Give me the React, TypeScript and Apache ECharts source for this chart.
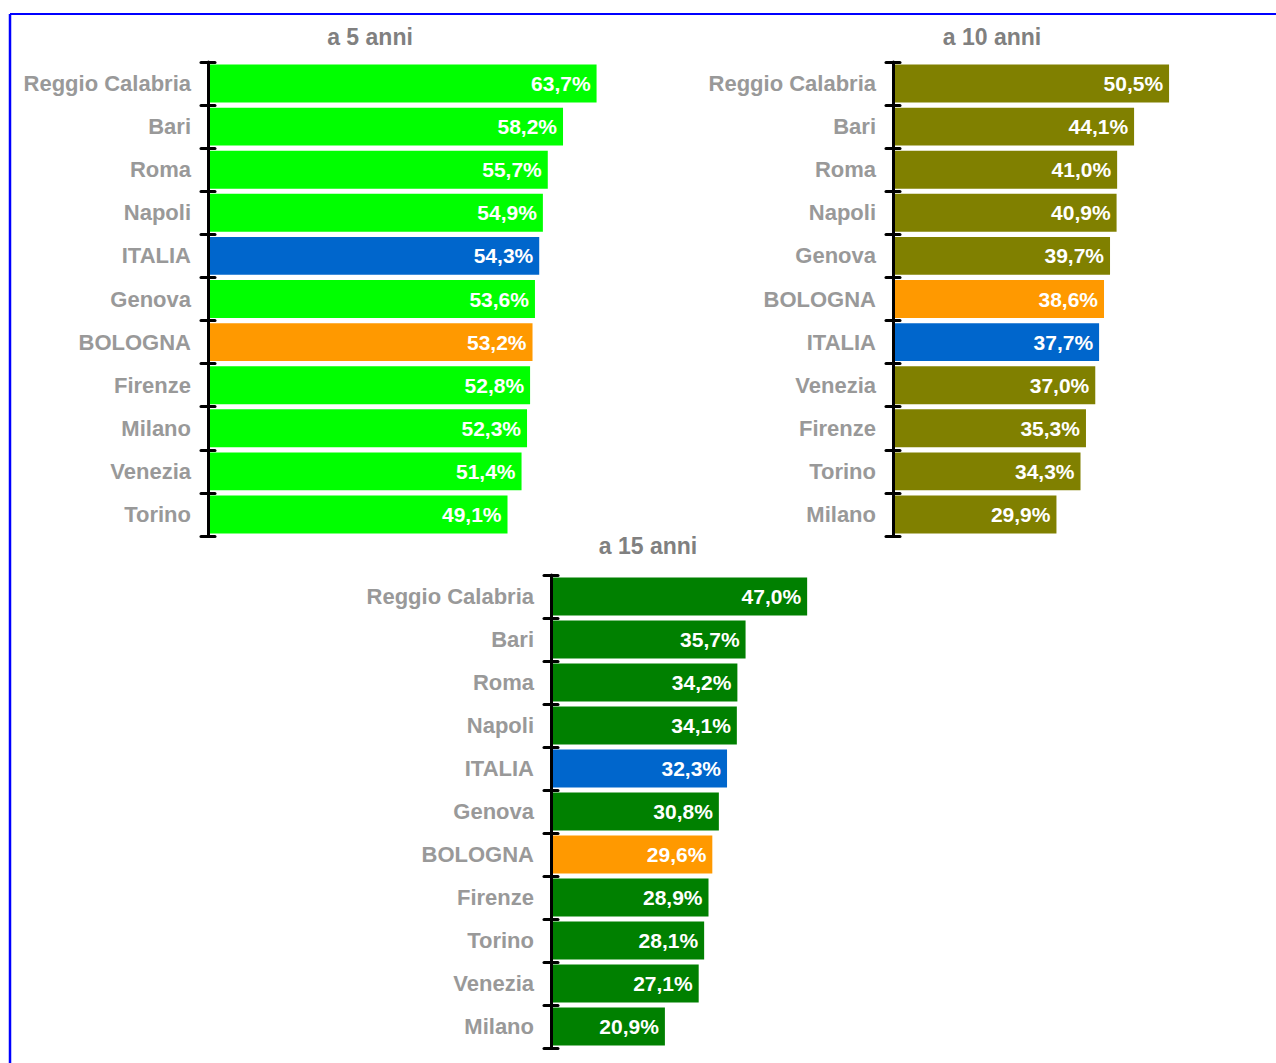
import React, { useEffect, useRef } from "react";
import * as echarts from "echarts";

const cities5 = ["Reggio Calabria", "Bari", "Roma", "Napoli", "ITALIA", "Genova", "BOLOGNA", "Firenze", "Milano", "Venezia", "Torino"];
const values5 = [63.7, 58.2, 55.7, 54.9, 54.3, 53.6, 53.2, 52.8, 52.3, 51.4, 49.1];

const cities10 = ["Reggio Calabria", "Bari", "Roma", "Napoli", "Genova", "BOLOGNA", "ITALIA", "Venezia", "Firenze", "Torino", "Milano"];
const values10 = [50.5, 44.1, 41.0, 40.9, 39.7, 38.6, 37.7, 37.0, 35.3, 34.3, 29.9];

const cities15 = ["Reggio Calabria", "Bari", "Roma", "Napoli", "ITALIA", "Genova", "BOLOGNA", "Firenze", "Torino", "Venezia", "Milano"];
const values15 = [47.0, 35.7, 34.2, 34.1, 32.3, 30.8, 29.6, 28.9, 28.1, 27.1, 20.9];

const titles = ["a 5 anni", "a 10 anni", "a 15 anni"];

const FONT = "'Liberation Sans', Arial, sans-serif";

export default function App() {
  const ref = useRef<HTMLDivElement>(null);
  useEffect(() => {
    if (!ref.current) return;
    const chart = echarts.init(ref.current, undefined, { renderer: "svg" });

    const panels = [
      { cats: cities5, vals: values5, color: "#00FF00", grid: { left: 208, top: 62, width: 427, height: 474 }, max: 70, title: { x: 370, y: 37 } },
      { cats: cities10, vals: values10, color: "#808000", grid: { left: 893, top: 62, width: 328, height: 474 }, max: 60, title: { x: 992, y: 37 } },
      { cats: cities15, vals: values15, color: "#008000", grid: { left: 551, top: 575, width: 327, height: 473 }, max: 60, title: { x: 648, y: 546 } },
    ];

    const colorFor = (name: string, base: string) =>
      name === "ITALIA" ? "#0066CC" : name === "BOLOGNA" ? "#FF9900" : base;

    const grids: any[] = [];
    const xAxes: any[] = [];
    const yAxes: any[] = [];
    const series: any[] = [];
    const graphics: any[] = [
      { type: "line", shape: { x1: 10, y1: 14, x2: 1276, y2: 14 }, style: { stroke: "#0000FF", lineWidth: 2 } },
      { type: "line", shape: { x1: 10, y1: 14, x2: 10, y2: 1063 }, style: { stroke: "#0000FF", lineWidth: 2.5 } },
    ];

    panels.forEach((p, i) => {
      grids.push({ ...p.grid, containLabel: false });
      xAxes.push({ type: "value", gridIndex: i, min: 0, max: p.max, show: false });
      const axisCommon = {
        type: "category",
        gridIndex: i,
        inverse: true,
        data: p.cats,
        position: "left",
        splitLine: { show: false },
      };
      yAxes.push({
        ...axisCommon,
        axisLine: { show: true, lineStyle: { color: "#000", width: 3 } },
        axisTick: { show: true, length: 7, lineStyle: { color: "#000", width: 3, cap: "round" } },
        axisLabel: {
          show: true,
          margin: 17,
          color: "#999999",
          fontFamily: FONT,
          fontWeight: "bold",
          fontSize: 22,
        },
        z: 5,
      });
      yAxes.push({
        ...axisCommon,
        axisLine: { show: false },
        axisTick: { show: true, inside: true, length: 7, lineStyle: { color: "#000", width: 3, cap: "round" } },
        axisLabel: { show: false },
        z: 5,
      });
      series.push({
        type: "bar",
        xAxisIndex: i,
        yAxisIndex: i * 2,
        barCategoryGap: "12%",
        data: p.vals.map((v, k) => ({ value: v, itemStyle: { color: colorFor(p.cats[k], p.color) } })),
        label: {
          show: true,
          position: "insideRight",
          distance: 6,
          color: "#FFFFFF",
          fontFamily: FONT,
          fontWeight: "bold",
          fontSize: 21,
          formatter: (d: any) => d.value.toFixed(1).replace(".", ",") + "%",
        },
        z: 2,
      });
      graphics.push({
        type: "text",
        x: p.title.x,
        y: p.title.y,
        style: {
          text: titles[i],
          fill: "#808080",
          font: `bold 23px ${FONT}`,
          textAlign: "center",
          textVerticalAlign: "middle",
        },
      });
    });

    chart.setOption({
      animation: false,
      backgroundColor: "#FFFFFF",
      grid: grids,
      xAxis: xAxes,
      yAxis: yAxes,
      series,
      graphic: graphics,
    });
    return () => chart.dispose();
  }, []);
  return <div ref={ref} style={{ position: "fixed", left: 0, top: 0, width: 1276, height: 1063 }} />;
}
